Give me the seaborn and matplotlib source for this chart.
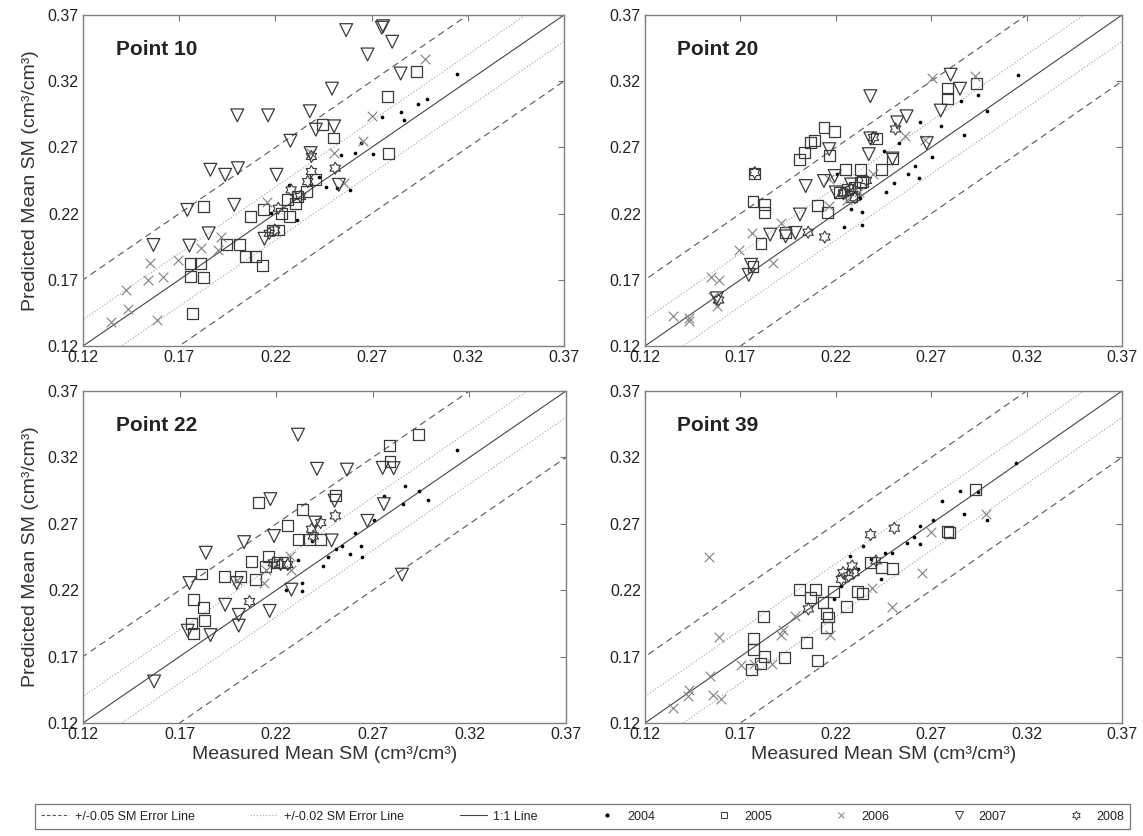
import numpy as np
import pandas as pd
import matplotlib
matplotlib.use("Agg")
import matplotlib.pyplot as plt
import seaborn as sns
from matplotlib.lines import Line2D
from matplotlib.path import Path

sns.set_theme(style="white")
plt.rcParams['font.family'] = ['Liberation Sans', 'DejaVu Sans']

# ---------------- data ----------------
PANELS = ["Point 10", "Point 20", "Point 22", "Point 39"]
YEARS = ["2004", "2005", "2006", "2007", "2008"]
TICKS = [0.12, 0.17, 0.22, 0.27, 0.32, 0.37]
TICK_LABELS = ["0.12", "0.17", "0.22", "0.27", "0.32", "0.37"]
X_LABEL = "Measured Mean SM (cm³/cm³)"
Y_LABEL = "Predicted Mean SM (cm³/cm³)"
ERR_OUTER = 0.05
ERR_INNER = 0.02
LEGEND_LABELS = ["+/-0.05 SM Error Line", "+/-0.02 SM Error Line", "1:1 Line",
                 "2004", "2005", "2006", "2007", "2008"]

# (measured, predicted) pairs per panel / year
P10_2004 = [(0.3145, 0.3258), (0.2988, 0.3069), (0.2940, 0.3031), (0.2855, 0.2965),
            (0.2868, 0.2905), (0.2755, 0.2930), (0.2645, 0.2733), (0.2708, 0.2649),
            (0.2616, 0.2657), (0.2540, 0.2644), (0.2587, 0.2379), (0.2463, 0.2399),
            (0.2425, 0.2480), (0.2311, 0.2152), (0.2273, 0.2417), (0.2177, 0.2203),
            (0.2521, 0.2392)]
P10_2005 = [(0.2933, 0.3271), (0.2784, 0.3081), (0.2444, 0.2872), (0.2502, 0.2771),
            (0.2788, 0.2652), (0.1828, 0.2253), (0.2072, 0.2177), (0.1944, 0.1968),
            (0.2015, 0.1968), (0.2044, 0.1874), (0.2095, 0.1874), (0.2135, 0.1811),
            (0.1757, 0.1824), (0.1811, 0.1824), (0.1757, 0.1728), (0.1828, 0.1718),
            (0.1771, 0.1445), (0.2139, 0.2228), (0.2187, 0.2076), (0.2215, 0.2076),
            (0.2263, 0.2309), (0.2315, 0.2329), (0.2273, 0.2177), (0.2364, 0.2367),
            (0.2406, 0.2455), (0.2234, 0.2203), (0.2305, 0.2273)]
P10_2006 = [(0.2979, 0.3364), (0.2702, 0.2935), (0.2502, 0.2657), (0.2654, 0.2745),
            (0.2559, 0.2430), (0.1547, 0.1824), (0.1614, 0.1723), (0.1538, 0.1697),
            (0.1696, 0.1849), (0.1423, 0.1622), (0.1432, 0.1483), (0.1347, 0.1382),
            (0.1585, 0.1394), (0.1815, 0.1937), (0.1919, 0.2026), (0.1900, 0.1925),
            (0.2158, 0.2291), (0.2387, 0.2657)]
P10_2007 = [(0.2568, 0.3586), (0.2753, 0.3604), (0.2760, 0.3615), (0.2807, 0.3498),
            (0.2679, 0.3402), (0.2851, 0.3258), (0.2494, 0.3144), (0.2002, 0.2942),
            (0.2162, 0.2942), (0.2379, 0.2973), (0.2410, 0.2834), (0.2505, 0.2859),
            (0.2278, 0.2750), (0.2383, 0.2657), (0.1862, 0.2531), (0.1939, 0.2493),
            (0.2005, 0.2543), (0.2206, 0.2493), (0.1986, 0.2266), (0.1742, 0.2228),
            (0.1853, 0.2051), (0.1753, 0.1958), (0.1566, 0.1963), (0.2530, 0.2417),
            (0.2143, 0.2010)]
P10_2008 = [(0.2511, 0.2543), (0.2387, 0.2518), (0.2368, 0.2442), (0.2282, 0.2379),
            (0.2196, 0.2076), (0.2168, 0.2051), (0.2387, 0.2632), (0.2330, 0.2329),
            (0.2215, 0.2240)]

P20_2004 = [(0.3156, 0.3249), (0.2943, 0.3097), (0.2991, 0.2978), (0.2856, 0.3054),
            (0.2870, 0.2793), (0.2750, 0.2864), (0.2642, 0.2895), (0.2532, 0.2737),
            (0.2706, 0.2631), (0.2615, 0.2560), (0.2580, 0.2497), (0.2638, 0.2472),
            (0.2507, 0.2428), (0.2464, 0.2363), (0.2451, 0.2674), (0.2339, 0.2211),
            (0.2281, 0.2236), (0.2242, 0.2099), (0.2335, 0.2117), (0.2329, 0.2320),
            (0.2204, 0.2497)]
P20_2005 = [(0.2937, 0.3186), (0.2787, 0.3143), (0.2787, 0.3067), (0.2138, 0.2851),
            (0.2192, 0.2819), (0.2088, 0.2750), (0.2069, 0.2737), (0.2036, 0.2662),
            (0.2011, 0.2606), (0.2165, 0.2636), (0.1775, 0.2502), (0.1766, 0.2294),
            (0.1827, 0.2269), (0.1827, 0.2206), (0.2103, 0.2261), (0.2156, 0.2206),
            (0.1808, 0.1973), (0.1766, 0.1800), (0.2252, 0.2535), (0.2329, 0.2535),
            (0.2441, 0.2535), (0.2497, 0.2616), (0.2412, 0.2768), (0.1934, 0.2054),
            (0.2329, 0.2434), (0.2220, 0.2360), (0.2260, 0.2380), (0.2300, 0.2400),
            (0.2340, 0.2440), (0.2280, 0.2330)]
P20_2006 = [(0.2702, 0.3224), (0.2928, 0.3239), (0.2561, 0.2788), (0.2667, 0.2758),
            (0.1760, 0.2054), (0.1692, 0.1927), (0.1914, 0.2130), (0.1872, 0.1826),
            (0.1544, 0.1724), (0.1586, 0.1699), (0.1557, 0.1572), (0.1576, 0.1501),
            (0.1345, 0.1425), (0.1432, 0.1390), (0.1428, 0.1408), (0.2165, 0.2459),
            (0.2165, 0.2256), (0.2397, 0.2497), (0.2260, 0.2300), (0.2320, 0.2360)]
P20_2007 = [(0.2802, 0.3249), (0.2851, 0.3143), (0.2381, 0.3087), (0.2750, 0.2978),
            (0.2571, 0.2935), (0.2522, 0.2889), (0.2381, 0.2768), (0.2165, 0.2687),
            (0.2373, 0.2649), (0.2677, 0.2732), (0.2497, 0.2616), (0.2042, 0.2408),
            (0.2138, 0.2446), (0.2194, 0.2484), (0.2012, 0.2193), (0.1856, 0.2041),
            (0.1937, 0.2028), (0.1988, 0.2054), (0.1756, 0.1813), (0.1744, 0.1737),
            (0.1576, 0.1560), (0.2280, 0.2420), (0.2200, 0.2360)]
P20_2008 = [(0.1775, 0.2510), (0.2142, 0.2023), (0.2055, 0.2059), (0.2513, 0.2839),
            (0.2397, 0.2775), (0.2281, 0.2383), (0.2242, 0.2358), (0.1586, 0.1547),
            (0.2240, 0.2350), (0.2300, 0.2320), (0.2360, 0.2450)]

P22_2004 = [(0.3138, 0.3253), (0.2868, 0.2987), (0.2940, 0.2949), (0.2987, 0.2878),
            (0.2855, 0.2848), (0.2760, 0.2906), (0.2704, 0.2729), (0.2609, 0.2628),
            (0.2638, 0.2532), (0.2643, 0.2449), (0.2581, 0.2469), (0.2509, 0.2507),
            (0.2468, 0.2449), (0.2440, 0.2381), (0.2336, 0.2254), (0.2336, 0.2191),
            (0.2251, 0.2204), (0.2313, 0.2431), (0.2383, 0.2570), (0.2543, 0.2532)]
P22_2005 = [(0.2936, 0.3371), (0.2785, 0.3290), (0.2789, 0.3169), (0.2109, 0.2861),
            (0.2336, 0.2805), (0.2260, 0.2684), (0.2313, 0.2583), (0.2509, 0.2916),
            (0.2430, 0.2583), (0.2072, 0.2418), (0.2162, 0.2456), (0.2091, 0.2284),
            (0.2015, 0.2305), (0.1930, 0.2305), (0.1813, 0.2322), (0.1770, 0.2133),
            (0.1823, 0.2072), (0.1830, 0.1971), (0.1764, 0.1951), (0.1774, 0.1875),
            (0.2374, 0.2583), (0.2204, 0.2406), (0.2242, 0.2406), (0.2147, 0.2381)]
P22_2006 = [(0.2138, 0.2254), (0.2147, 0.2355), (0.1996, 0.2279), (0.2279, 0.2355),
            (0.2270, 0.2456)]
P22_2007 = [(0.2313, 0.3371), (0.2411, 0.3114), (0.2566, 0.3108), (0.2751, 0.3121),
            (0.2808, 0.3119), (0.2170, 0.2886), (0.2757, 0.2848), (0.2502, 0.2873),
            (0.2672, 0.2722), (0.2034, 0.2562), (0.2189, 0.2608), (0.1836, 0.2482),
            (0.1751, 0.2254), (0.1996, 0.2254), (0.1936, 0.2090), (0.2006, 0.2014),
            (0.2006, 0.1933), (0.2166, 0.2044), (0.2279, 0.2204), (0.1860, 0.1862),
            (0.1742, 0.1895), (0.1568, 0.1513), (0.2851, 0.2317), (0.2487, 0.2575),
            (0.2402, 0.2709)]
P22_2008 = [(0.2506, 0.2760), (0.2430, 0.2709), (0.2392, 0.2608), (0.2383, 0.2659),
            (0.2062, 0.2115), (0.2260, 0.2393), (0.2185, 0.2406), (0.2223, 0.2393)]

P39_2004 = [(0.3144, 0.3161), (0.2851, 0.2945), (0.2756, 0.2869), (0.2870, 0.2775),
            (0.2947, 0.2940), (0.2991, 0.2732), (0.2708, 0.2725), (0.2641, 0.2682),
            (0.2612, 0.2598), (0.2574, 0.2555), (0.2641, 0.2548), (0.2497, 0.2479),
            (0.2459, 0.2479), (0.2344, 0.2535), (0.2277, 0.2454), (0.2439, 0.2287),
            (0.2315, 0.2358), (0.2229, 0.2231), (0.2190, 0.2130), (0.2382, 0.2434)]
P39_2005 = [(0.2934, 0.2960), (0.2784, 0.2641), (0.2794, 0.2636), (0.2497, 0.2363),
            (0.2439, 0.2370), (0.2382, 0.2408), (0.2008, 0.2206), (0.2095, 0.2206),
            (0.2066, 0.2142), (0.2133, 0.2109), (0.2315, 0.2193), (0.2340, 0.2175),
            (0.2257, 0.2074), (0.2152, 0.2028), (0.2162, 0.1998), (0.2152, 0.1922),
            (0.1823, 0.2003), (0.2047, 0.1805), (0.2104, 0.1674), (0.1932, 0.1694),
            (0.1769, 0.1838), (0.1769, 0.1750), (0.1826, 0.1699), (0.1807, 0.1648),
            (0.1759, 0.1603), (0.2190, 0.2193)]
P39_2006 = [(0.1535, 0.2451), (0.2985, 0.2775), (0.2698, 0.2636), (0.2650, 0.2327),
            (0.2497, 0.2074), (0.2171, 0.1864), (0.2392, 0.2218), (0.1587, 0.1851),
            (0.1913, 0.1864), (0.1922, 0.1902), (0.1984, 0.2003), (0.1702, 0.1636),
            (0.1865, 0.1648), (0.1539, 0.1552), (0.1558, 0.1408), (0.1597, 0.1382),
            (0.1428, 0.1446), (0.1424, 0.1400), (0.1348, 0.1311), (0.1769, 0.1648)]
P39_2007 = []
P39_2008 = [(0.2382, 0.2618), (0.2507, 0.2667), (0.2411, 0.2421), (0.2286, 0.2383),
            (0.2238, 0.2332), (0.2056, 0.2059), (0.2296, 0.2332), (0.2229, 0.2282),
            (0.2267, 0.2307)]

SERIES = {
    "Point 10": [P10_2004, P10_2005, P10_2006, P10_2007, P10_2008],
    "Point 20": [P20_2004, P20_2005, P20_2006, P20_2007, P20_2008],
    "Point 22": [P22_2004, P22_2005, P22_2006, P22_2007, P22_2008],
    "Point 39": [P39_2004, P39_2005, P39_2006, P39_2007, P39_2008],
}

rows = []
for panel, lists in SERIES.items():
    for year, pts in zip(YEARS, lists):
        for m, p in pts:
            rows.append({"panel": panel, "year": year, "measured": m, "predicted": p})
df = pd.DataFrame(rows)

# ---------------- styles ----------------
ang = np.deg2rad(90 + 30 * np.arange(12))
rad = np.where(np.arange(12) % 2 == 0, 1.0, 0.577)
hex_verts = np.column_stack([rad * np.cos(ang), rad * np.sin(ang)])
HEXAGRAM = Path(np.vstack([hex_verts, hex_verts[:1]]), closed=True)

MK = "#3a3a3a"
STYLE = {
    "2004": dict(marker="o", s=7, color="black", linewidth=0),
    "2005": dict(marker="s", s=62, facecolor="none", edgecolor=MK, linewidth=0.9),
    "2006": dict(marker="x", s=48, color="#808080", linewidth=0.8),
    "2007": dict(marker="v", s=85, facecolor="none", edgecolor=MK, linewidth=0.9),
    "2008": dict(marker=HEXAGRAM, s=75, facecolor="none", edgecolor=MK, linewidth=0.8),
}

W, H = 1143, 836
fig = plt.figure(figsize=(W / 100, H / 100), dpi=100)
fig.patch.set_facecolor("white")

boxes = {
    "Point 10": (83, 15, 564, 346),
    "Point 20": (645, 15, 1122, 346),
    "Point 22": (83, 391, 566, 723),
    "Point 39": (645, 391, 1122, 723),
}

line_x = np.array([0.05, 0.45])
for i, panel in enumerate(PANELS):
    x0, y0, x1, y1 = boxes[panel]
    ax = fig.add_axes([x0 / W, 1 - y1 / H, (x1 - x0) / W, (y1 - y0) / H])
    ax.set_facecolor("white")
    # reference lines
    for off in (ERR_OUTER, -ERR_OUTER):
        ax.plot(line_x, line_x + off, ls=(0, (6, 4)), color="#555555", lw=0.8, zorder=1)
    for off in (ERR_INNER, -ERR_INNER):
        ax.plot(line_x, line_x + off, ls=(0, (1, 1.5)), color="#b0b0b0", lw=0.9, zorder=1)
    ax.plot(line_x, line_x, ls="-", color="#444444", lw=0.8, zorder=1)

    sub = df[df["panel"] == panel]
    for year in YEARS:
        d = sub[sub["year"] == year]
        if len(d) == 0:
            continue
        sns.scatterplot(data=d, x="measured", y="predicted", ax=ax, legend=False,
                        zorder=3, **STYLE[year])

    ax.set_xlim(0.12, 0.37)
    ax.set_ylim(0.12, 0.37)
    ax.set_xticks(TICKS)
    ax.set_yticks(TICKS)
    ax.set_xticklabels(TICK_LABELS)
    ax.set_yticklabels(TICK_LABELS)
    ax.tick_params(direction="in", length=4, width=0.8, color="#777777",
                   top=True, right=True, labelsize=11.5, labelcolor="#222222", pad=3)
    for sp in ax.spines.values():
        sp.set_color("#808080")
        sp.set_linewidth(1.0)
    ax.set_xlabel(X_LABEL if i >= 2 else "", fontsize=14, color="#333333", labelpad=3)
    ax.set_ylabel(Y_LABEL if i % 2 == 0 else "", fontsize=14, color="#333333", labelpad=6)
    ax.text(0.068, 0.895, panel, transform=ax.transAxes, fontsize=15,
            fontweight="bold", color="#222222", va="center", ha="left")

handles = [
    Line2D([], [], ls=(0, (3, 2)), color="#555555", lw=0.8),
    Line2D([], [], ls=(0, (1, 1.5)), color="#b0b0b0", lw=0.9),
    Line2D([], [], ls="-", color="#444444", lw=0.8),
    Line2D([], [], ls="none", marker="o", markersize=2, color="black"),
    Line2D([], [], ls="none", marker="s", markersize=5, mfc="none", mec=MK, mew=0.7),
    Line2D([], [], ls="none", marker="x", markersize=5, color="#808080", mew=0.7),
    Line2D([], [], ls="none", marker="v", markersize=5.5, mfc="none", mec=MK, mew=0.7),
    Line2D([], [], ls="none", marker=HEXAGRAM, markersize=6, mfc="none", mec=MK, mew=0.7),
]
leg = fig.legend(handles, LEGEND_LABELS, loc="center",
                 bbox_to_anchor=(35 / W, 1 - 830 / H, 1095 / W, 27 / H),
                 mode="expand", ncol=8, frameon=True, fancybox=False,
                 edgecolor="#555555", fontsize=9, handlelength=2.2,
                 handletextpad=0.5, borderaxespad=0, borderpad=0.5)
leg.get_frame().set_linewidth(0.9)
for t in leg.get_texts():
    t.set_color("#222222")

fig.savefig("out.png", dpi=100, facecolor="white")
